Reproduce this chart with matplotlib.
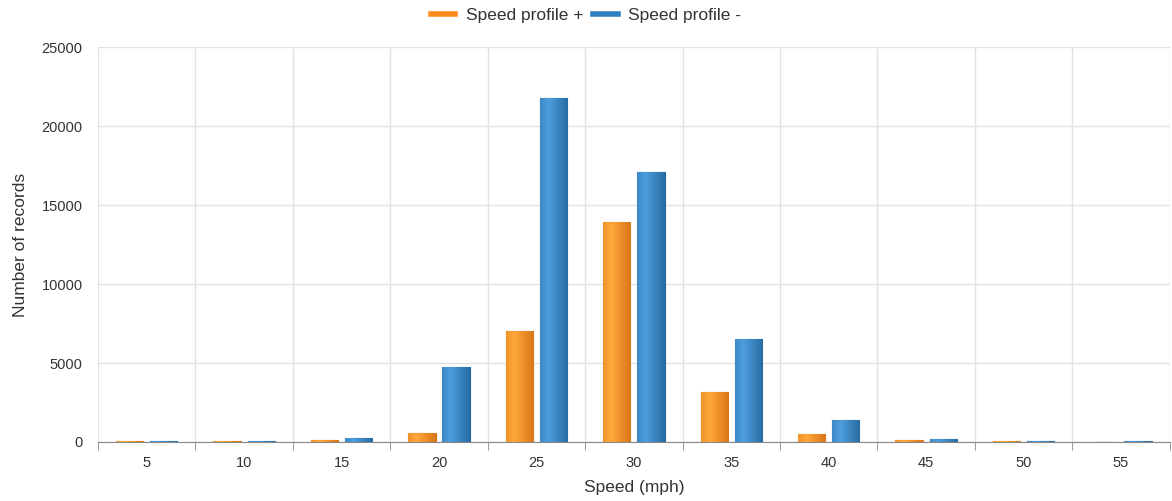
import numpy as np
import matplotlib
matplotlib.use('Agg')
import matplotlib.pyplot as plt
from matplotlib.lines import Line2D

speeds = ['5', '10', '15', '20', '25', '30', '35', '40', '45', '50', '55']
profile_plus = [60, 60, 130, 590, 7050, 13950, 3180, 500, 130, 60, 0]
profile_minus = [60, 60, 230, 4750, 21800, 17100, 6520, 1410, 210, 60, 60]

ORANGE = '#ff8a1c'
BLUE = '#2f7fbf'

plt.rcParams['font.family'] = ['Liberation Sans', 'DejaVu Sans']

fig = plt.figure(figsize=(11.72, 5.01), dpi=100)
ax = fig.add_axes([0.0836, 0.1178, 0.9144, 0.7882])

x = np.arange(len(speeds))
width = 0.28
offset = 0.175


def gradient_bars(xs, heights, color, edge):
    bars = ax.bar(xs, heights, width, color=color, edgecolor=edge, linewidth=0.8, zorder=3)
    rgb = np.array(matplotlib.colors.to_rgb(color))
    light = np.clip(rgb + 0.12, 0, 1)
    dark = rgb * 0.85
    t = np.linspace(0, 1, 64)
    # light near the left third, darker towards the right
    w = np.clip(np.abs(t - 0.3) / 0.7, 0, 1)[:, None]
    grad = (light * (1 - w) + dark * w)[None, :, :]
    for b in bars:
        h = b.get_height()
        if h <= 0:
            continue
        bx, bw = b.get_x(), b.get_width()
        im = ax.imshow(grad, extent=[bx, bx + bw, 0, h], aspect='auto',
                       zorder=3.5, interpolation='bilinear')
        im.set_clip_path(b)
    return bars


gradient_bars(x - offset, profile_plus, ORANGE, '#d96f0a')
gradient_bars(x + offset, profile_minus, BLUE, '#1f6aa5')

ax.set_xlim(-0.5, len(speeds) - 0.5)
ax.set_ylim(0, 25000)
ax.set_yticks(np.arange(0, 25001, 5000))
ax.set_xticks(x)
ax.set_xticklabels(speeds)
ax.set_xticks(np.arange(-0.5, len(speeds), 1), minor=True)

ax.grid(True, which='major', axis='y', color='#e3e3e3', linewidth=1, zorder=0)
ax.grid(True, which='minor', axis='x', color='#e3e3e3', linewidth=1, zorder=0)

for s in ['top', 'right', 'left']:
    ax.spines[s].set_visible(False)
ax.spines['bottom'].set_color('#888888')
ax.spines['bottom'].set_zorder(2)

ax.tick_params(axis='x', which='major', length=0, pad=10, labelsize=10.5, colors='#333333')
ax.tick_params(axis='x', which='minor', length=6, color='#888888', direction='out')
ax.tick_params(axis='y', length=0, pad=11, labelsize=10.5, colors='#333333')

ax.set_xlabel('Speed (mph)', fontsize=12.5, color='#333333', labelpad=7)
ax.set_ylabel('Number of records', fontsize=12.5, color='#333333', labelpad=10)

handles = [Line2D([0], [0], color=ORANGE, linewidth=4),
           Line2D([0], [0], color=BLUE, linewidth=4)]
fig.legend(handles, ['Speed profile +', 'Speed profile -'], loc='upper center',
           bbox_to_anchor=(0.5, 1.015), ncol=2, frameon=False, fontsize=12.5,
           handlelength=1.4, columnspacing=0.6, handletextpad=0.6,
           labelcolor='#333333')

fig.savefig('out.png', dpi=100)
